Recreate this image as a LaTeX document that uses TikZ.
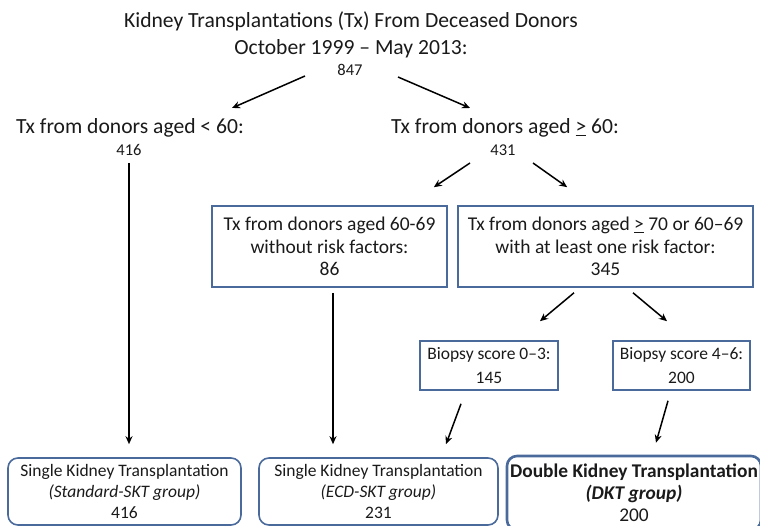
\documentclass[tikz,border=0pt]{standalone}
\usepackage{fontspec}
\setmainfont{Carlito}
\usetikzlibrary{arrows.meta, calc}
\definecolor{boxblue}{HTML}{4A6A9C}
\definecolor{txt}{HTML}{1A1A1A}
\tikzset{
  hd/.style={font=\fontsize{21.6}{26.5}\selectfont, align=center, text=txt, inner sep=0pt},
  num/.style={font=\fontsize{16.5}{18}\selectfont, text=txt, inner sep=0pt},
  box/.style={draw=boxblue, line width=1.6pt, align=center, text=txt, inner sep=0pt, font=\fontsize{19.5}{22.5}\selectfont},
  bx/.style={box, font=\fontsize{17.5}{24}\selectfont},
  grp/.style={box, rounded corners=10pt, font=\fontsize{17.5}{21}\selectfont},
  arr/.style={-{Stealth[length=8pt,width=7pt]}, line width=1.5pt, black}
}

\begin{document}
\begin{tikzpicture}[x=1pt, y=-1pt]
\useasboundingbox (0,0) rectangle (760,526);
\node[hd] (title) at (351,35) {Kidney Transplantations (Tx) From Deceased Donors\\October 1999 -- May 2013:};
\node[num] (n847) at (350,70) {847};
\node[hd] (young) at (130,128) {Tx from donors aged < 60:};
\node[num] (n416) at (129,150) {416};
\node[hd] (old) at (505,128) {Tx from donors aged \underline{>} 60:};
\node[num] (n431) at (503,150) {431};
\node[box, minimum width=235pt, minimum height=81pt] (lowrisk) at (329.5,246.5) {Tx from donors aged 60-69\\without risk factors:\\86};
\node[box, minimum width=295pt, minimum height=81pt] (highrisk) at (605.5,246.5) {Tx from donors aged \underline{>} 70 or 60--69\\with at least one risk factor:\\345};
\node[bx, minimum width=138pt, minimum height=49pt] (bx03) at (489,365.5) {Biopsy score 0--3:\\145};
\node[bx, minimum width=137pt, minimum height=49pt] (bx46) at (681.5,365.5) {Biopsy score 4--6:\\200};
\node[grp, minimum width=233pt, minimum height=67pt] (std) at (124.5,491.5) {Single Kidney Transplantation\\\textit{(Standard-SKT group)}\\416};
\node[grp, minimum width=239pt, minimum height=67pt] (ecd) at (378.5,491.5) {Single Kidney Transplantation\\\textit{(ECD-SKT group)}\\231};
\node[grp, line width=2.6pt, minimum width=254pt, minimum height=74pt, font=\fontsize{19.4}{22}\selectfont] (dkt) at (634,493) {\textbf{Double Kidney Transplantation}\\\textbf{\textit{(DKT group)}}\\200};
\draw [arr] ($(n847)+(-45,6)$) -- ($(young)+(102,-20)$);
\draw [arr] ($(n847)+(48,7)$) -- ($(old)+(-35,-20)$);
\draw [arr] ($(n416)+(0,13)$) -- ($(std.north)+(4.5,-13)$);
\draw [arr] ($(n431)+(-33,13)$) -- ($(lowrisk.north east)+(-14,-18)$);
\draw [arr] ($(n431)+(30,13)$) -- ($(highrisk.north west)+(110,-18)$);
\draw [arr] ($(lowrisk.south)+(3.5,5)$) -- ($(ecd.north)+(-45.5,-13)$);
\draw [arr] ($(highrisk.south)+(-31.5,5)$) -- ($(bx03.north)+(51,-19)$);
\draw [arr] ($(highrisk.south)+(27.5,5)$) -- ($(bx46.north)+(-14.5,-19)$);
\draw [arr] ($(bx03.south)+(-28,13)$) -- ($(ecd.north)+(67.5,-13)$);
\draw [arr] ($(bx46.south)+(-13.5,10)$) -- ($(dkt.north)+(22,-12)$);
\end{tikzpicture}
\end{document}
